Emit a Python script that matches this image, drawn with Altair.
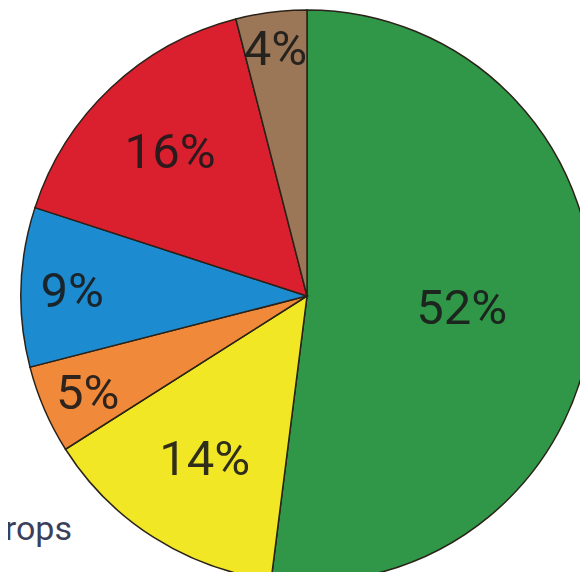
import altair as alt
import pandas as pd

# --- data ---
categories = ["Green", "Yellow", "Orange", "Blue", "Red", "Brown"]
values = [52, 14, 5, 9, 16, 4]
labels = ["52%", "14%", "5%", "9%", "16%", "4%"]
colors = ["#2f9747", "#f1e724", "#f0893a", "#1d8bd0", "#da1f2f", "#9b7757"]
caption = ["Crops"]

# --- layout (label distance from centre, per slice) ---
label_radius = [155, 191, 239, 235, 200, 251]
CX, CY, R = 299, 288, 286

df = pd.DataFrame({
    "cat": categories,
    "value": values,
    "label": labels,
    "idx": list(range(len(values))),
    "lr": label_radius,
})

theta_scale = alt.Scale(domain=[0, 100])

arcs = alt.Chart(df).mark_arc(outerRadius=R, stroke="#2a2218", strokeWidth=1.5).encode(
    theta=alt.Theta("value:Q", stack=True, scale=theta_scale),
    order=alt.Order("idx:Q"),
    color=alt.Color("cat:N", scale=alt.Scale(domain=categories, range=colors), legend=None),
    x=alt.value(CX),
    y=alt.value(CY),
)

text = alt.Chart(df).transform_window(
    cum="sum(value)", sort=[alt.SortField("idx")], frame=[None, 0]
).transform_calculate(
    mid="datum.cum - datum.value / 2"
).mark_text(
    font="Roboto", fontSize=49, align="center", baseline="middle",
    color="#1a1a1a", opacity=0.9, dy=3,
).encode(
    theta=alt.Theta("mid:Q", stack=None, scale=theta_scale),
    text="label:N",
    radius=alt.Radius("lr:Q", scale=None),
    x=alt.value(CX),
    y=alt.value(CY),
)

crops = alt.Chart(pd.DataFrame({"t": caption})).mark_text(
    font="Roboto", fontSize=34, align="right", baseline="alphabetic", color="#3b3f5c",
).encode(
    text="t:N",
    x=alt.value(64),
    y=alt.value(532),
)

chart = alt.layer(arcs, text, crops).properties(
    width=572, height=564, padding=0,
    autosize=alt.AutoSizeParams(type="none"),
).configure_view(stroke=None)

chart.save("out.html", embed_options={"renderer": "svg", "actions": False})
